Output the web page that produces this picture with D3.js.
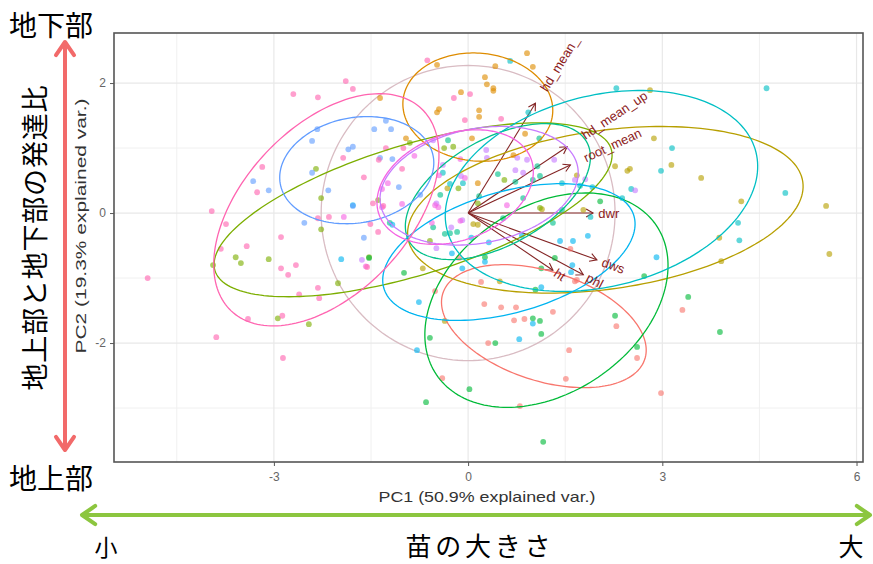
<!DOCTYPE html>
<html>
<head>
<meta charset="utf-8">
<script src="https://cdn.jsdelivr.net/npm/d3@7"></script>
<style>
 body { margin:0; background:#fff; }
 svg { display:block; }
</style>
</head>
<body>
<svg id="chart" width="873" height="564"></svg>
<script>
// ---- data (PC1, PC2 scores per group) ----
var groupColors = ["#F8766D","#DE8C00","#B79F00","#7CAE00","#00BA38","#00C08B","#00BFC4","#00B4F0","#619CFF","#C77CFF","#F564E3","#FF64B0"];

var g01 = [[-0.51,-1.20],[-0.40,-2.54],[-0.14,-0.69],[0.20,-1.06],[0.25,-1.40],[0.51,-1.45],[0.74,-1.45],[0.71,-1.65],[0.87,-1.63],[1.31,-1.52],[0.31,-2.00],[1.56,-2.11],[1.51,-2.55],[2.29,-1.74],[2.61,-2.23],[2.98,-2.77],[3.31,-1.49],[1.65,-1.05],[0.80,-2.97],[1.58,-0.55],[1.68,-1.03]];
var g02 = [[-0.48,2.28],[-1.36,1.77],[-0.11,1.86],[-0.48,1.55],[-0.45,1.60],[-0.96,1.15],[0.06,1.15],[0.91,2.46],[1.00,2.25],[0.42,2.26],[0.26,2.09],[0.29,1.98],[0.39,1.92],[0.39,1.88],[0.17,1.58],[0.17,1.48],[0.88,1.22],[0.15,0.46],[0.70,0.89]];
var g03 = [[-0.32,0.38],[0.08,-0.17],[-0.36,-1.66],[-0.70,-0.85],[0.49,-1.05],[3.88,-0.38],[3.91,-0.74],[5.58,-0.63],[2.81,1.89],[2.87,1.15],[3.14,0.74],[2.27,0.72],[2.46,0.65],[2.50,0.68],[3.60,0.54],[4.22,0.18],[5.53,0.11],[1.68,0.58],[1.78,0.05],[1.14,0.06],[0.15,-0.18]];
var g04 = [[-2.35,0.68],[-2.27,0.23],[-2.27,-0.25],[-0.90,1.08],[-1.39,0.20],[-0.23,1.02],[-0.37,1.00],[-3.59,-0.68],[-3.51,-0.77],[-3.08,-0.71],[-3.94,-0.80],[-2.01,-1.08],[-2.94,-1.62],[-2.46,-1.71],[0.56,0.51],[-0.15,0.38],[0.15,0.15],[1.11,0.08],[-1.53,-0.68],[-0.59,-0.43]];
var g05 = [[-1.53,-0.69],[-0.99,-0.92],[-0.59,-1.92],[-0.65,-2.91],[0.02,-2.71],[0.42,-2.00],[1.13,-1.86],[1.11,-1.66],[1.00,-1.62],[2.27,-1.58],[2.61,-2.06],[3.40,-1.29],[3.89,-1.83],[2.72,-0.97],[1.16,-3.52],[1.13,-0.85],[1.34,-0.69],[0.26,-0.68],[1.04,-1.18],[2.04,0.18]];
var g06 = [[-0.31,1.12],[-0.43,0.28],[-1.21,-0.15],[-0.54,-0.22],[-0.36,-0.32],[-0.28,-0.31],[-0.17,-0.29],[1.10,1.15],[1.07,0.72],[1.11,0.57],[1.00,0.51],[0.46,0.60],[0.17,0.26],[0.73,0.48],[1.45,0.05],[0.85,0.23],[0.54,-0.08],[1.31,-0.15]];
var g07 = [[-0.39,0.62],[-0.28,0.45],[0.65,2.34],[0.93,1.55],[2.29,1.92],[4.61,1.92],[3.15,1.00],[2.98,0.65],[2.52,0.37],[2.38,0.23],[4.90,0.31],[4.17,-0.15],[4.19,-0.42],[1.92,0.40],[1.89,-0.06],[1.73,0.42],[1.45,0.46],[-0.08,0.46]];
var g08 = [[-1.96,-0.71],[-0.79,-2.11],[-0.76,-1.37],[-0.09,-0.85],[0.05,-0.38],[-0.25,-0.62],[0.32,-0.45],[0.79,-1.94],[1.00,-1.70],[1.42,-0.43],[1.62,-0.43],[1.85,-0.35],[1.61,-0.80],[1.59,-0.91],[1.13,-1.14],[2.91,-0.68],[0.83,-0.35],[-1.17,-0.18],[-1.78,0.12],[0.26,-0.75]];
var g09 = [[-1.27,1.42],[-1.19,1.29],[-1.45,1.29],[-2.33,1.29],[-2.41,1.11],[-1.85,0.98],[-1.78,1.02],[-1.36,0.85],[-2.41,0.62],[-3.32,0.49],[-3.08,0.35],[-2.16,0.35],[-1.78,0.11],[-2.53,-0.15],[-1.61,-0.38],[-1.07,0.40],[-0.74,0.28],[-1.17,0.83]];
var g10 = [[-0.54,1.12],[-0.39,0.74],[-0.49,0.15],[-0.09,-0.11],[-0.49,-0.54],[-1.64,-0.72],[0.28,0.97],[0.29,0.85],[-0.11,0.57],[0.76,0.85],[0.91,0.82],[0.73,0.66],[1.33,0.82],[0.85,0.62],[1.65,0.51],[1.81,0.52],[2.58,0.35],[-0.26,-0.22]];
var g11 = [[-0.83,0.88],[-1.24,0.46],[-1.33,0.37],[-1.33,0.09],[-1.02,0.14],[-0.12,0.83],[-0.05,0.54],[-0.45,0.58],[-0.51,0.12],[-0.46,0.09],[-0.56,-0.15],[-0.12,-0.12],[0.60,0.12],[-1.58,-0.82],[-1.92,-0.06]];
var g12 = [[-0.63,2.35],[-1.89,2.03],[-1.78,1.91],[-2.70,1.83],[-2.32,1.78],[-0.22,1.77],[0.03,1.83],[-0.05,1.43],[0.51,1.45],[-3.18,0.71],[-3.26,0.32],[-1.27,1.00],[-1.38,0.82],[-1.00,1.00],[-1.02,0.68],[-1.61,0.55],[-1.93,0.85],[-3.96,0.03],[-3.74,-0.17],[-3.42,-0.51],[-2.89,-0.37],[-2.32,-0.08],[-2.15,-0.06],[-1.47,0.15],[-1.31,0.11],[-1.51,-0.17],[-1.39,-0.29],[-3.82,-0.55],[-4.95,-1.00],[-2.89,-0.85],[-2.66,-0.80],[-2.78,-0.95],[-2.32,-1.15],[-2.61,-1.25],[-2.30,-1.31],[-3.40,-1.63],[-2.87,-1.58],[-3.89,-1.91],[-2.86,-2.23],[-1.56,-0.83]];
var groupPoints = [g01,g02,g03,g04,g05,g06,g07,g08,g09,g10,g11,g12];

// group ellipses: centre, semi axes, rotation (deg)
var ellCx  = [1.17, 0.15, 2.12, -0.85, 1.21, 0.46, 2.06, 0.63, -1.72, 0.17, -0.20, -2.19];
var ellCy  = [-1.74, 1.63, 0.05, 0.05, -1.34, 0.33, 0.34, -0.60, 0.66, 0.42, 0.40, 0.05];
var ellA   = [1.64, 1.16, 3.08, 3.20, 2.05, 1.57, 2.46, 2.01, 1.20, 1.55, 1.25, 2.14];
var ellB   = [0.84, 0.83, 1.22, 1.00, 1.43, 0.82, 1.47, 0.93, 0.81, 0.88, 0.82, 1.28];
var ellDeg = [-18, -5, 8, 17, 34, 29, 14, 16, 10, 11, 20, 46.6];
var circleR = 2.27;

// loadings
var varNames = ["hd_mean_", "hd_mean_up", "root_mean", "dwr", "dws", "phl", "ht"];
var loadX = [1.04, 1.53, 1.58, 1.93, 1.99, 1.78, 1.31];
var loadY = [1.69, 1.02, 0.74, 0.00, -0.72, -0.95, -0.88];

// axes
var xMajor = [-3, 0, 3, 6], xMinor = [-4.5, -1.5, 1.5, 4.5];
var yMajor = [-2, 0, 2], yMinor = [-3, -1, 1];
var xTitle = "PC1 (50.9% explained var.)";
var yTitle = "PC2 (19.3% explained var.)";

// ---- drawing ----
var svg = d3.select("#chart");
var L = 114, T = 33, R = 863, B = 462;
var x = d3.scaleLinear().domain([-5.47, 6.1]).range([L, R]);
var y = d3.scaleLinear().domain([-3.83, 2.77]).range([B, T]);
var font = "'Liberation Sans', Arial, sans-serif";
var jfont = "'Noto Sans CJK JP', sans-serif";

svg.append("defs").append("clipPath").attr("id", "clip")
  .append("rect").attr("x", L).attr("y", T).attr("width", R - L).attr("height", B - T);

// grid
var grid = svg.append("g");
grid.selectAll(".vmin").data(xMinor).enter().append("line")
  .attr("x1", d => x(d)).attr("x2", d => x(d)).attr("y1", T).attr("y2", B)
  .attr("stroke", "#f0f0f0").attr("stroke-width", 1);
grid.selectAll(".hmin").data(yMinor).enter().append("line")
  .attr("y1", d => y(d)).attr("y2", d => y(d)).attr("x1", L).attr("x2", R)
  .attr("stroke", "#f0f0f0").attr("stroke-width", 1);
grid.selectAll(".vmaj").data(xMajor).enter().append("line")
  .attr("x1", d => x(d)).attr("x2", d => x(d)).attr("y1", T).attr("y2", B)
  .attr("stroke", "#e8e8e8").attr("stroke-width", 1.2);
grid.selectAll(".hmaj").data(yMajor).enter().append("line")
  .attr("y1", d => y(d)).attr("y2", d => y(d)).attr("x1", L).attr("x2", R)
  .attr("stroke", "#e8e8e8").attr("stroke-width", 1.2);

var plot = svg.append("g").attr("clip-path", "url(#clip)");

// correlation circle
var tt = d3.range(0, 2 * Math.PI, Math.PI / 90);
var line = d3.line().curve(d3.curveLinearClosed);
plot.append("path")
  .attr("d", line(tt.map(t => [x(circleR * Math.cos(t)), y(circleR * Math.sin(t))])))
  .attr("fill", "none").attr("stroke", "#d9bcc3").attr("stroke-width", 1.3);

// loading arrows
var ox = x(0), oy = y(0);
var arr = plot.append("g").attr("stroke", "#832424").attr("stroke-width", 1.1).attr("fill", "none");
varNames.forEach(function(nm, i) {
  var px = x(loadX[i]), py = y(loadY[i]);
  arr.append("line").attr("x1", ox).attr("y1", oy).attr("x2", px).attr("y2", py);
  var phi = Math.atan2(py - oy, px - ox), hl = 8;
  var a1 = phi + Math.PI - Math.PI / 6, a2 = phi + Math.PI + Math.PI / 6;
  arr.append("path").attr("d", "M" + (px + hl * Math.cos(a1)) + "," + (py + hl * Math.sin(a1)) +
    "L" + px + "," + py + "L" + (px + hl * Math.cos(a2)) + "," + (py + hl * Math.sin(a2)));
});

// points
groupPoints.forEach(function(pts, gi) {
  plot.append("g").selectAll("circle").data(pts).enter().append("circle")
    .attr("cx", d => x(d[0])).attr("cy", d => y(d[1])).attr("r", 2.9)
    .attr("fill", groupColors[gi]).attr("fill-opacity", 0.62);
});

// ellipses
groupColors.forEach(function(col, i) {
  var th = ellDeg[i] * Math.PI / 180;
  var pts = tt.map(function(t) {
    var u = ellA[i] * Math.cos(t), v = ellB[i] * Math.sin(t);
    return [x(ellCx[i] + u * Math.cos(th) - v * Math.sin(th)),
            y(ellCy[i] + u * Math.sin(th) + v * Math.cos(th))];
  });
  plot.append("path").attr("d", line(pts)).attr("fill", "none")
    .attr("stroke", col).attr("stroke-width", 1.3);
});

// variable labels
varNames.forEach(function(nm, i) {
  var ang = Math.atan(loadY[i] / loadX[i]) * 180 / Math.PI;
  var t = plot.append("text")
    .attr("transform", "translate(" + x(loadX[i]) + "," + y(loadY[i]) + ") rotate(" + (-ang) + ")")
    .attr("dominant-baseline", "central").attr("font-family", font).attr("font-size", 13)
    .attr("fill", "#8b1a1a").text(nm);
  t.attr("x", t.node().getComputedTextLength() * 0.25);
});

// panel border
svg.append("rect").attr("x", L).attr("y", T).attr("width", R - L).attr("height", B - T)
  .attr("fill", "none").attr("stroke", "#555").attr("stroke-width", 1.6);

// axes
var xAxis = svg.append("g").attr("transform", "translate(0," + B + ")")
  .call(d3.axisBottom(x).tickValues(xMajor).tickSize(4).tickPadding(6).tickFormat(d => String(d)));
var yAxis = svg.append("g").attr("transform", "translate(" + L + ",0)")
  .call(d3.axisLeft(y).tickValues(yMajor).tickSize(4).tickPadding(4).tickFormat(d => String(d)));
[xAxis, yAxis].forEach(function(ax) {
  ax.select(".domain").remove();
  ax.selectAll("line").attr("stroke", "#555");
  ax.selectAll("text").attr("font-family", font).attr("font-size", 12).attr("fill", "#666");
});

svg.append("text").attr("x", 487).attr("y", 502).attr("text-anchor", "middle")
  .attr("font-family", font).attr("font-size", 15).attr("fill", "#333")
  .attr("textLength", 217).attr("lengthAdjust", "spacingAndGlyphs").text(xTitle);
svg.append("text").attr("transform", "translate(86,226) rotate(-90)").attr("text-anchor", "middle")
  .attr("font-family", font).attr("font-size", 15).attr("fill", "#333")
  .attr("textLength", 255).attr("lengthAdjust", "spacingAndGlyphs").text(yTitle);

// ---- Japanese annotations ----
function dblArrow(g, x1, y1, x2, y2, col) {
  g.append("line").attr("x1", x1).attr("y1", y1).attr("x2", x2).attr("y2", y2)
    .attr("stroke", col).attr("stroke-width", 4);
  var phi = Math.atan2(y2 - y1, x2 - x1), hl = 16;
  [[x2, y2, phi], [x1, y1, phi + Math.PI]].forEach(function(p) {
    var a1 = p[2] + Math.PI - 0.6, a2 = p[2] + Math.PI + 0.6;
    g.append("path").attr("d", "M" + (p[0] + hl * Math.cos(a1)) + "," + (p[1] + hl * Math.sin(a1)) +
      "L" + p[0] + "," + p[1] + "L" + (p[0] + hl * Math.cos(a2)) + "," + (p[1] + hl * Math.sin(a2)))
      .attr("fill", "none").attr("stroke", col).attr("stroke-width", 4)
      .attr("stroke-linecap", "round").attr("stroke-linejoin", "round");
  });
}
var ann = svg.append("g");
dblArrow(ann, 65, 42, 65, 450, "#f26a6a");
dblArrow(ann, 82, 515, 870, 515, "#8cc63f");

ann.append("text").attr("x", 9).attr("y", 36).attr("font-family", jfont).attr("font-size", 28)
  .text("地下部");
ann.append("text").attr("x", 9).attr("y", 489).attr("font-family", jfont).attr("font-size", 28)
  .text("地上部");
ann.append("text").attr("transform", "translate(33,238) rotate(-90)").attr("text-anchor", "middle")
  .attr("dominant-baseline", "central").attr("font-family", jfont).attr("font-size", 27)
  .attr("textLength", 305).text("地上部と地下部の発達比");
ann.append("text").attr("x", 106).attr("y", 556).attr("text-anchor", "middle")
  .attr("font-family", jfont).attr("font-size", 23).text("小");
ann.append("text").attr("x", 478).attr("y", 556).attr("text-anchor", "middle")
  .attr("font-family", jfont).attr("font-size", 26).attr("textLength", 145).text("苗の大きさ");
ann.append("text").attr("x", 851).attr("y", 556).attr("text-anchor", "middle")
  .attr("font-family", jfont).attr("font-size", 25).text("大");
</script>
</body>
</html>
